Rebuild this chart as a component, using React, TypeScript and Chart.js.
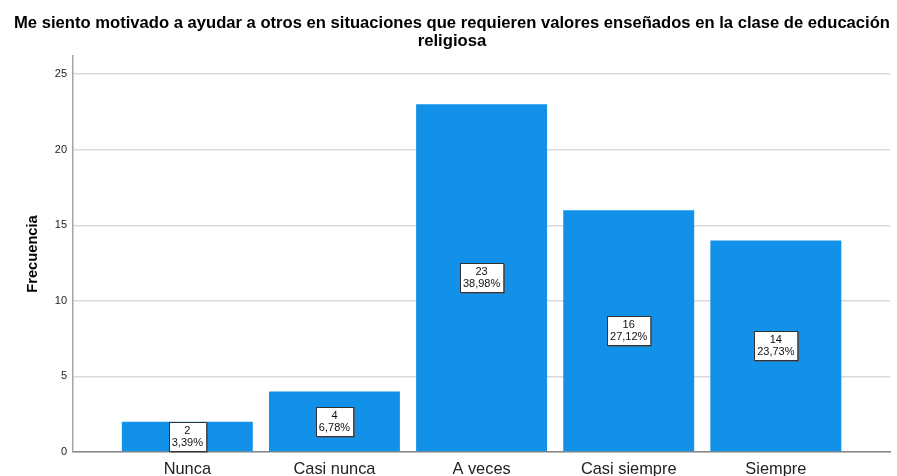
import React, { useEffect, useRef } from "react";
import { Chart, registerables } from "chart.js";

Chart.register(...registerables);

const titleLines = [
  "Me siento motivado a ayudar a otros en situaciones que requieren valores enseñados en la clase de educación",
  "religiosa",
];
const categories = ["Nunca", "Casi nunca", "A veces", "Casi siempre", "Siempre"];
const counts = [2, 4, 23, 16, 14];
const percentLabels = ["3,39%", "6,78%", "38,98%", "27,12%", "23,73%"];
const yTicks = [0, 5, 10, 15, 20, 25];
const yAxisTitle = "Frecuencia";

const FONT = "'Liberation Sans', Arial, sans-serif";

const labelBoxes = {
  id: "labelBoxes",
  afterDatasetsDraw(chart: any) {
    const ctx = chart.ctx;
    const meta = chart.getDatasetMeta(0);
    ctx.save();
    ctx.font = `11px ${FONT}`;
    ctx.textAlign = "center";
    ctx.textBaseline = "middle";
    meta.data.forEach((bar: any, i: number) => {
      const props = bar.getProps(["x", "y", "base"], true);
      const cx = props.x;
      const cy = (props.y + props.base) / 2;
      const l1 = String(counts[i]);
      const l2 = percentLabels[i];
      const w = Math.max(ctx.measureText(l1).width, ctx.measureText(l2).width) + 6;
      const h = 29;
      const x0 = Math.round(cx - w / 2) + 0.5;
      const y0 = Math.round(cy - h / 2) + 0.5;
      ctx.fillStyle = "#555";
      ctx.fillRect(x0 + 1, y0 + 1, w, h);
      ctx.fillStyle = "#ffffff";
      ctx.fillRect(x0, y0, w, h);
      ctx.strokeStyle = "#333";
      ctx.lineWidth = 1;
      ctx.strokeRect(x0, y0, w, h);
      ctx.fillStyle = "#111";
      ctx.fillText(l1, cx, y0 + 8.5);
      ctx.fillText(l2, cx, y0 + 20.5);
    });
    ctx.restore();
  },
};

export default function App() {
  const ref = useRef<HTMLCanvasElement | null>(null);
  useEffect(() => {
    if (!ref.current) return;
    const chart = new Chart(ref.current, {
      type: "bar",
      data: {
        datasets: [
          {
            data: counts.map((v, i) => ({ x: i, y: v })),
            backgroundColor: "#1192e8",
            borderWidth: 0,
            barPercentage: 0.89,
            categoryPercentage: 1,
          },
        ],
      },
      plugins: [labelBoxes],
      options: {
        animation: false,
        responsive: true,
        maintainAspectRatio: false,
        layout: { padding: { left: 14, right: 7, top: 0, bottom: 0 } },
        plugins: {
          legend: { display: false },
          tooltip: { enabled: false },
          title: {
            display: true,
            text: titleLines,
            color: "#000",
            font: { family: FONT, size: 16.7, weight: "bold", lineHeight: 1.08 },
            padding: { top: 14, bottom: 5.9 },
          },
        },
        scales: {
          x: {
            type: "linear",
            offset: false,
            min: -0.777,
            max: 4.776,
            afterBuildTicks: (scale: any) => {
              scale.ticks = categories.map((_, i) => ({ value: i }));
            },
            afterFit: (scale: any) => {
              scale.height = 24;
            },
            grid: { display: false, drawTicks: false, offset: false },
            border: { display: true, color: "#888", width: 1.5 },
            ticks: {
              autoSkip: false,
              maxRotation: 0,
              padding: 8,
              color: "#222",
              font: { family: FONT, size: 16.4 },
              callback: (v: any) => categories[Math.round(Number(v))] ?? "",
            },
          },
          y: {
            type: "linear",
            min: 0,
            max: 26.2,
            afterBuildTicks: (scale: any) => {
              scale.ticks = yTicks.map((v) => ({ value: v }));
            },
            afterFit: (scale: any) => {
              scale.width = 59;
            },
            grid: { color: "#d9d9d9", lineWidth: 1.5, drawTicks: false },
            border: { display: true, color: "#a6a6a6", width: 1.5 },
            ticks: {
              padding: 6,
              color: "#222",
              font: { family: FONT, size: 11 },
            },
            title: {
              display: true,
              text: yAxisTitle,
              color: "#000",
              font: { family: FONT, size: 14.7, weight: "bold" },
              padding: { top: 10.2, bottom: 0 },
            },
          },
        },
      },
    } as any);
    return () => chart.destroy();
  }, []);
  return (
    <div style={{ position: "absolute", left: 0, top: 0, width: 897, height: 476, background: "#fff" }}>
      <canvas ref={ref} />
    </div>
  );
}
